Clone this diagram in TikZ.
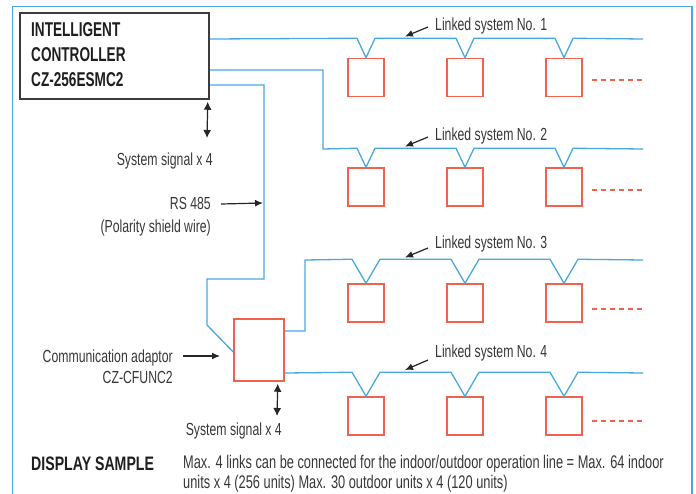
\documentclass[tikz,border=0pt]{standalone}
\usepackage{fontspec}
\setmainfont{Liberation Sans}[FakeStretch=0.7]
\newfontfamily\ctrlfont{Liberation Sans}[FakeStretch=0.68]
\newfontfamily\dsfont{Liberation Sans}[FakeStretch=0.725]
\usetikzlibrary{arrows.meta,calc}
\definecolor{busblue}{RGB}{72,168,224}
\definecolor{unitred}{RGB}{240,98,78}
\definecolor{txt}{RGB}{55,55,55}
\definecolor{ctrlgray}{RGB}{60,60,60}
\tikzset{
 bus/.style={busblue,line width=1.3pt},
 unit/.style={draw=unitred,line width=1.5pt,minimum width=36pt,minimum height=38pt,inner sep=0pt},
 lbl/.style={txt,font=\fontsize{17.5}{20}\selectfont,inner sep=0pt},
 bold/.style={black!88,font=\ctrlfont\bfseries\fontsize{20}{25}\selectfont,inner sep=0pt},
 ptr/.style={-{Latex[length=8pt,width=7pt]},line width=1.2pt,black!85},
 dptr/.style={{Latex[length=8pt,width=8pt]}-{Latex[length=8pt,width=8pt]},line width=1.2pt,black!85},
 more/.style={unitred,line width=1.2pt,dash pattern=on 5pt off 4pt},
}
\begin{document}
\begin{tikzpicture}[x=1pt,y=-1pt]
\useasboundingbox (0,0) rectangle (696,493);
% frame
\draw[busblue,line width=1.5pt] (12.5,500) -- (12.5,6.5) -- (692,6.5) -- (692,500);

% controller
\node[draw=ctrlgray,line width=1.5pt,minimum width=189pt,minimum height=86pt,inner sep=0pt] (ctrl) at (114.5,56) {};
\node[bold,anchor=north west,align=left] (ctrltxt) at (31,22.5) {INTELLIGENT\\CONTROLLER\\CZ-256ESMC2};

% adaptor
\node[draw=unitred,line width=1.5pt,minimum width=50pt,minimum height=62pt,inner sep=0pt] (adp) at (259,350) {};

% units
\foreach \r/\y in {1/77.5,2/187,3/303,4/416}{
  \node[unit] (u\r1) at (366,\y) {};
  \node[unit] (u\r2) at (465,\y) {};
  \node[unit] (u\r3) at (564,\y) {};
}

% buses
\draw[bus] (ctrl.east|-0,39)
  -- ($(u11.north)+(-9,-19.5)$) -- (u11.north) -- ($(u11.north)+(9,-19.5)$)
  -- ($(u12.north)+(-9,-19.5)$) -- (u12.north) -- ($(u12.north)+(9,-19.5)$)
  -- ($(u13.north)+(-9,-19.5)$) -- (u13.north) -- ($(u13.north)+(9,-19.5)$)
  -- (643,39);
\draw[bus] (ctrl.east|-0,70) -- (323,70) -- (323,149)
  -- ($(u21.north)+(-9,-19)$) -- (u21.north) -- ($(u21.north)+(9,-19)$)
  -- ($(u22.north)+(-9,-19)$) -- (u22.north) -- ($(u22.north)+(9,-19)$)
  -- ($(u23.north)+(-9,-19)$) -- (u23.north) -- ($(u23.north)+(9,-19)$)
  -- (643,149);
\draw[bus] (ctrl.east|-0,85) -- (264,85) -- (264,279) -- (207,279) -- (207,325) -- (adp.west|-0,352);
\draw[bus] (adp.east|-0,331) -- (305,331) -- (305,260)
  -- ($(u31.north)+(-14,-24)$) -- (u31.north) -- ($(u31.north)+(14,-24)$)
  -- ($(u32.north)+(-14,-24)$) -- (u32.north) -- ($(u32.north)+(14,-24)$)
  -- ($(u33.north)+(-14,-24)$) -- (u33.north) -- ($(u33.north)+(14,-24)$)
  -- (643,260);
\draw[bus] (adp.east|-0,373)
  -- ($(u41.north)+(-14,-24)$) -- (u41.north) -- ($(u41.north)+(14,-24)$)
  -- ($(u42.north)+(-14,-24)$) -- (u42.north) -- ($(u42.north)+(14,-24)$)
  -- ($(u43.north)+(-14,-24)$) -- (u43.north) -- ($(u43.north)+(14,-24)$)
  -- (643,373);

% dashed continuation
\draw[more] (u13.east|-0,80) ++(9,0) coordinate (d1) -- (644,80);
\draw[more] (u23.east|-0,190) ++(9,0) coordinate (d2) -- (644,190);
\draw[more] (u33.east|-0,309) ++(9,0) coordinate (d3) -- (644,309);
\draw[more] (u43.east|-0,421) ++(9,0) coordinate (d4) -- (644,421);

% linked system labels
\node[lbl,anchor=base west] (l1) at (435,30) {Linked system No. 1};
\node[lbl,anchor=base west] (l2) at (435,140) {Linked system No. 2};
\node[lbl,anchor=base west] (l3) at (435,248) {Linked system No. 3};
\node[lbl,anchor=base west] (l4) at (435,357) {Linked system No. 4};
\coordinate (a1t) at (428,27);  \coordinate (a1h) at (405,36.5);
\coordinate (a2t) at (428,137); \coordinate (a2h) at (405,146.5);
\coordinate (a3t) at (428,248); \coordinate (a3h) at (405,257.5);
\coordinate (a4t) at (428,360); \coordinate (a4h) at (405,370);
\draw[ptr] (a1t) -- (a1h);
\draw[ptr] (a2t) -- (a2h);
\draw[ptr] (a3t) -- (a3h);
\draw[ptr] (a4t) -- (a4h);

% controller system signal
\coordinate (s1) at (207,138);
\draw[dptr] ([xshift=-2pt,yshift=-2pt]ctrl.south east) -- (s1);
\node[lbl,anchor=base east] (sig1) at (213,165) {System signal x 4};

% RS 485
\node[lbl,anchor=base east] (rs) at (211,209) {RS 485};
\node[lbl,anchor=base east] (rs2) at (211,232) {(Polarity shield wire)};
\coordinate (rsh) at (263,203);
\draw[ptr] ([xshift=10pt,yshift=5pt]rs.base east) -- (rsh);

% adaptor labels
\node[lbl,anchor=base east] (ca) at (173,362) {Communication adaptor};
\node[lbl,anchor=base east] (ca2) at (173,383) {CZ-CFUNC2};
\coordinate (cah) at (220,356);
\draw[ptr] ([xshift=10pt,yshift=6pt]ca.base east) -- (cah);
\coordinate (s2) at (277,416);
\draw[dptr] ([xshift=-7pt,yshift=-2pt]adp.south east) -- (s2);
\node[lbl,anchor=base east] (sig2) at (282,435) {System signal x 4};

% display sample
\node[black!88,inner sep=0pt,anchor=base west,font=\dsfont\bfseries\fontsize{19.5}{20}\selectfont] (ds) at (31,470) {DISPLAY SAMPLE};
\node[lbl,anchor=base west,font=\fontsize{18.3}{20}\selectfont] (desc1) at (183,468) {Max. 4 links can be connected for the indoor/outdoor operation line = Max. 64 indoor};
\node[lbl,anchor=base west,font=\fontsize{18.3}{20}\selectfont] (desc2) at (183,488) {units x 4 (256 units) Max. 30 outdoor units x 4 (120 units)};
\end{tikzpicture}
\end{document}
